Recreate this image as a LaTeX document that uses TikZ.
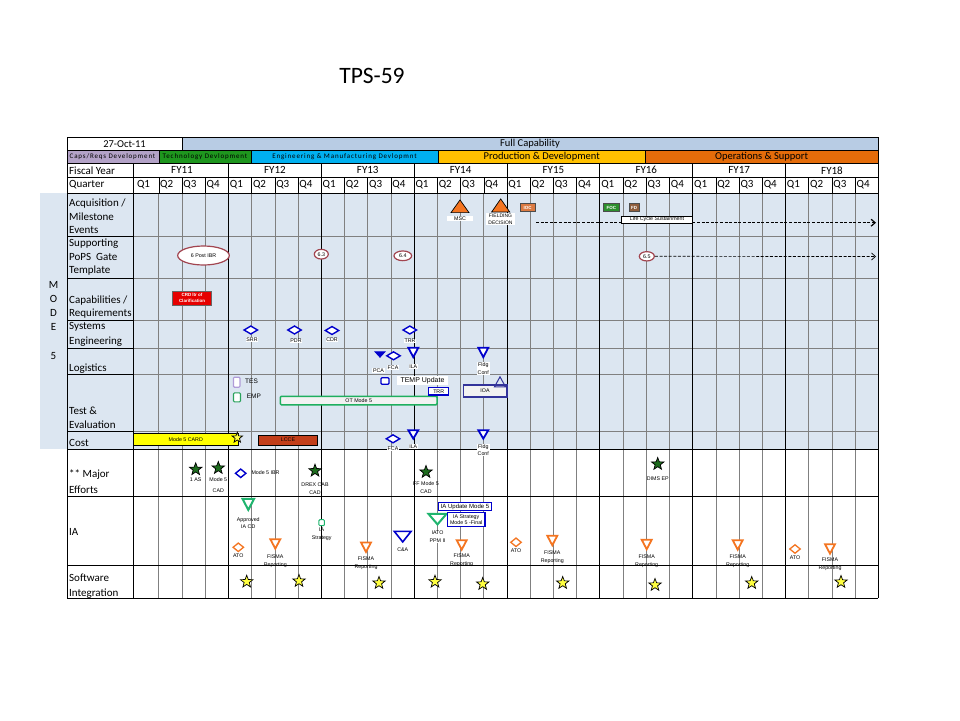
\documentclass[tikz,border=0pt]{standalone}
\usepackage{fontspec}
\setmainfont{Carlito}
\newfontfamily\arialf{Liberation Sans}
\newfontfamily\phasef[LetterSpace=12]{Carlito}
\usetikzlibrary{shapes.geometric,arrows.meta}
\definecolor{bgblue}{HTML}{DCE6F1}
\definecolor{fullcap}{HTML}{B8CCE4}
\definecolor{capsreq}{HTML}{B3A2C7}
\definecolor{techdev}{HTML}{1E961E}
\definecolor{emd}{HTML}{00B0F0}
\definecolor{prod}{HTML}{FFC000}
\definecolor{ops}{HTML}{E46C0A}
\definecolor{gridgray}{HTML}{808080}
\definecolor{msblue}{HTML}{0000CC}
\definecolor{ioablue}{HTML}{33339A}
\definecolor{msorange}{HTML}{F47521}
\definecolor{iagreen}{HTML}{1FB46E}
\definecolor{empgreen}{HTML}{2AA25C}
\definecolor{otgreen}{HTML}{1FAF5F}
\definecolor{tespurple}{HTML}{B09CD8}
\definecolor{dkgreen}{HTML}{1D6B1D}
\definecolor{starylw}{HTML}{FFFF40}
\definecolor{iocbox}{HTML}{DB7A42}
\definecolor{focbox}{HTML}{2D8F2D}
\definecolor{fdbox}{HTML}{8E5C3B}
\definecolor{crdred}{HTML}{E60000}
\definecolor{lcce}{HTML}{C23E1A}
\definecolor{ellred}{HTML}{A24550}
\definecolor{barfill}{HTML}{F2F2F2}
\definecolor{cardyl}{HTML}{FFFF00}
\tikzset{
  gridq/.style={gridgray, line width=0.7pt},
  gridfy/.style={black, line width=0.9pt},
  hline/.style={black, line width=0.8pt},
  hlineg/.style={gridgray, line width=0.8pt},
  hdr/.style={font=\fontsize{11}{12}\selectfont, inner sep=0pt},
  rowlbl/.style={font=\fontsize{11}{13.5}\selectfont, anchor=west, align=left, inner sep=0pt},
  tinytxt/.style={font=\arialf\fontsize{5.3}{7.8}\selectfont, inner sep=0.6pt, align=center},
  tlbl/.style={tinytxt, fill=white},
  phasebig/.style={font=\fontsize{10.5}{11}\selectfont, inner sep=0pt},
  phasesm/.style={font=\phasef\fontsize{7}{8}\selectfont, inner sep=0pt},
  bdiam/.style={diamond, draw=msblue, line width=1.4pt, fill=white, minimum width=14pt, minimum height=8.5pt, inner sep=0pt},
  odiam/.style={diamond, draw=msorange, line width=1.3pt, fill=white, minimum width=11pt, minimum height=9pt, inner sep=0pt},
  dtri/.style={isosceles triangle, isosceles triangle stretches, rotate=-90, anchor=apex, inner sep=0pt},
  utri/.style={isosceles triangle, isosceles triangle stretches, rotate=90, anchor=apex, inner sep=0pt},
  fistri/.style={dtri, draw=msorange, line width=1.8pt, fill=white, minimum width=10pt, minimum height=9.5pt},
  btri/.style={dtri, draw=msblue, line width=1.8pt, fill=white, minimum width=10pt, minimum height=9.5pt},
  gstar/.style={star, star points=5, star point ratio=2.4, draw=black, line width=0.7pt, fill=dkgreen, minimum size=13pt, inner sep=0pt},
  ystar/.style={gstar, fill=starylw},
  popsell/.style={ellipse, draw=ellred, line width=1.2pt, fill=white, inner sep=0pt, tinytxt},
  docicon/.style={rectangle, rounded corners=1pt, line width=1.1pt, fill=white, minimum width=6.5pt, minimum height=9pt, inner sep=0pt},
  msbox/.style={rectangle, draw=black!70, line width=0.6pt, text=white, font=\arialf\bfseries\fontsize{4.5}{5}\selectfont, inner sep=0pt, minimum height=8.4pt},
}
\def\xo{135.6}
\def\qw{23.213}
\begin{document}
\begin{tikzpicture}[x=1pt,y=-1pt]
\useasboundingbox (0,0) rectangle (960,720);
\fill[white] (0,0) rectangle (960,720);
\node[font=\fontsize{23.5}{26}\selectfont, inner sep=0pt] (title) at (372,76) {TPS-59};

% ---------- fills ----------
\fill[bgblue] (40,193) rectangle (878.3,449.3);
\fill[fullcap] (182,137.3) rectangle (878.3,150);
\fill[capsreq] (67,150) rectangle (159.3,163.3);
\fill[techdev] (159.3,150) rectangle (251.7,163.3);
\fill[emd] (251.7,150) rectangle (438.3,163.3);
\fill[prod] (438.3,150) rectangle (645,163.3);
\fill[ops] (645,150) rectangle (878.3,163.3);

% ---------- grid ----------
\foreach \q in {1,...,31}{
  \pgfmathtruncatemacro\m{mod(\q,4)}
  \ifnum\m=0\relax\else
    \draw[gridq] ({\xo+\q*\qw},193) -- ({\xo+\q*\qw},598.3);
    \draw[black, line width=0.6pt] ({\xo+\q*\qw},177) -- ({\xo+\q*\qw},193);
  \fi
}
\foreach \y in {236.7,278.3,320,348.3,374.3,431.7}{
  \draw[hlineg] (133.3,\y) -- (878.3,\y);
  \draw[hline] (67,\y) -- (133.3,\y);
}
\foreach \y in {137.3,150,163.3,177,193,449.3,496.7,565,598.3}{
  \draw[hline] (67,\y) -- (878.3,\y);
}
\draw[gridfy] (133.3,163.3) -- (133.3,598.3);
\foreach \k in {1,...,7}{
  \draw[gridfy] ({\xo+\k*4*\qw},163.3) -- ({\xo+\k*4*\qw},598.3);
}
\draw[hline] (67,137.3) -- (67,598.3);
\draw[hline] (878.3,137.3) -- (878.3,598.3);
\draw[hline] (182,137.3) -- (182,150);
\foreach \x in {159.3,251.7,438.3,645}{
  \draw[black, line width=0.6pt] (\x,150) -- (\x,163.3);
}

% ---------- header text ----------
\node[font=\fontsize{10.5}{11}\selectfont, inner sep=0pt] (date) at (124.5,143.8) {27-Oct-11};
\node[phasebig] (fullcapL) at (530,143.8) {Full Capability};
\node[phasesm] (ph1) at (112.5,157) {Caps/Reqs Development};
\node[phasesm] (ph2) at (205,157) {Technology Devlopment};
\node[phasesm] (ph3) at (344.5,157) {Engineering \& Manufacturing Devlopmnt};
\node[phasebig] (ph4) at (541.7,157) {Production \& Development};
\node[phasebig] (ph5) at (761.6,157) {Operations \& Support};
\node[hdr, anchor=west] (fyL) at (69,170.3) {Fiscal Year};
\node[hdr, anchor=west] (qL) at (69,185) {Quarter};
\foreach \k/\t in {0/FY11,1/FY12,2/FY13,3/FY14,4/FY15,5/FY16,6/FY17,7/FY18}{
  \node[hdr] (fy\k) at ({\xo+\k*4*\qw+2*\qw},170.3) {\t};
}
\foreach \q in {0,...,31}{
  \pgfmathtruncatemacro\n{mod(\q,4)+1}
  \node[hdr, anchor=west] (qlab\q) at ({\xo+\q*\qw+1.2},185) {Q\n};
}

% ---------- row labels ----------
\node[rowlbl] (rAcq) at (69,216.3) {Acquisition /\\Milestone\\Events};
\node[rowlbl] (rPops) at (69,257.2) {Supporting\\PoPS\ \ Gate\\Template};
\node[rowlbl] (rCap) at (69,307) {Capabilities /\\Requirements};
\node[rowlbl, font=\fontsize{11}{14.4}\selectfont] (rSE) at (69,334.5) {Systems\\Engineering};
\node[rowlbl] (rLog) at (69,368.3) {Logistics};
\node[rowlbl] (rTE) at (69,418) {Test \&\\Evaluation};
\node[rowlbl] (rCost) at (69,442.5) {Cost};
\node[rowlbl, font=\fontsize{11}{16}\selectfont] (rME) at (69,482) {** Major\\Efforts};
\node[rowlbl] (rIA) at (69,531.7) {IA};
\node[rowlbl, font=\fontsize{11}{15}\selectfont] (rSW) at (69,585.8) {Software\\Integration};
\foreach \i/\c/\y in {1/M/285,2/O/299,3/D/312.7,4/E/326.7,5/5/355.7}{
  \node[font=\fontsize{11}{12}\selectfont, inner sep=0pt] (mode\i) at (53.5,\y) {\c};
}

% ---------- Acquisition / Milestone ----------
\node[utri, draw=black, line width=0.7pt, fill=msorange, minimum width=18pt, minimum height=12.7pt] (mscT) at (460,199) {};
\node[tlbl, minimum width=26pt] (mscL) at (460,218.3) {MSC};
\node[utri, draw=black, line width=0.7pt, fill=msorange, minimum width=18pt, minimum height=13pt] (fldT) at (500.7,198) {};
\node[tlbl, minimum width=29pt, font=\arialf\fontsize{5}{6.8}\selectfont] (fldL) at (500.5,219) {FIELDING\\DECISION};
\node[msbox, fill=iocbox, minimum width=15.3pt] (ioc) at (527.7,207.5) {IOC};
\node[msbox, fill=focbox, minimum width=16pt] (foc) at (611.3,207.5) {FOC};
\node[msbox, fill=fdbox, minimum width=10.3pt] (fd) at (634.2,207.5) {FD};
\coordinate (lcsA) at (536,222.7);
\coordinate (lcsB) at (876,222.7);
\draw[dash pattern=on 3pt off 1.6pt, line width=1.2pt, -{Straight Barb[length=4pt,width=7pt]}] (lcsA) -- (lcsB);
\node[tinytxt, draw=black, line width=0.6pt, fill=white, minimum width=70.6pt, minimum height=7.3pt, inner sep=0pt] (lcs) at (657,219.6) {Life Cycle Sustainment};

% ---------- PoPS ----------
\node[popsell, minimum width=51.6pt, minimum height=19pt] (e6p) at (203.5,255.5) {6 Post IBR};
\node[popsell, minimum width=14pt, minimum height=9.7pt] (e63) at (321.3,254.2) {6.3};
\node[popsell, minimum width=17.7pt, minimum height=9.7pt] (e64) at (402.8,255.8) {6.4};
\node[popsell, minimum width=15pt, minimum height=9.3pt] (e65) at (646.8,256.3) {6.5};
\coordinate (popsB) at (876,256.5);
\draw[dash pattern=on 3pt off 1.6pt, line width=0.7pt, -{Straight Barb[length=4pt,width=7pt]}] (e65) -- (popsB);

% ---------- Capabilities ----------
\node[rectangle, draw=black!60, fill=crdred, text=white, font=\arialf\bfseries\fontsize{4.5}{5.4}\selectfont, align=center, minimum width=39pt, minimum height=14pt, inner sep=0pt] (crd) at (192,298) {CRD ltr of\\Clarification};

% ---------- Systems Engineering ----------
\node[bdiam] (srr) at (250.8,330) {};
\node[tlbl] (srrL) at (252,339.5) {SRR};
\node[bdiam] (pdr) at (294.5,330) {};
\node[tlbl] (pdrL) at (296,341) {PDR};
\node[bdiam] (cdr) at (332,330.5) {};
\node[tlbl] (cdrL) at (332,340) {CDR};
\node[bdiam] (trr) at (409.8,330) {};
\node[tlbl] (trrL) at (410,341) {TRR};

% ---------- Logistics ----------
\node[dtri, fill=msblue, draw=msblue, line width=0.8pt, minimum width=10pt, minimum height=5.5pt] (pca) at (380,358.3) {};
\node[tlbl] (pcaL) at (378.5,370.7) {PCA};
\node[bdiam] (fcaLog) at (393.5,355.8) {};
\node[tlbl] (fcaLogL) at (393,367.7) {FCA};
\node[btri] (ilaLog) at (413.3,359.5) {};
\node[tlbl] (ilaLogL) at (413.3,366.5) {ILA};
\node[btri] (fcLog) at (483.3,359.5) {};
\node[tlbl] (fcLogL) at (483.3,368.7) {Fldg\\Conf};

% ---------- Test & Evaluation ----------
\node[docicon, draw=tespurple, minimum height=10pt] (tes) at (236.7,382.2) {};
\node[font=\arialf\fontsize{6.5}{7}\selectfont, anchor=west, inner sep=0pt] (tesL) at (245,381.7) {TES};
\node[docicon, draw=empgreen, minimum width=7pt] (emp) at (237,397.3) {};
\node[font=\arialf\fontsize{6.5}{7}\selectfont, anchor=west, inner sep=0pt] (empL) at (246.7,396.7) {EMP};
\node[rectangle, rounded corners=1pt, draw=otgreen, line width=1.5pt, fill=barfill, minimum width=156.6pt, minimum height=8.5pt, tinytxt, inner sep=0pt] (ot) at (358.7,400.5) {OT Mode 5};
\node[docicon, draw=msblue, minimum width=8pt, minimum height=6.5pt] (tempI) at (385,381) {};
\node[fill=white, font=\arialf\fontsize{7}{8}\selectfont, minimum width=51.6pt, minimum height=9pt, inner sep=0pt] (tempL) at (422.5,380.5) {TEMP Update};
\node[draw=msblue, line width=1.3pt, fill=white, tinytxt, minimum width=20pt, minimum height=7.7pt, inner sep=0pt] (trrBox) at (438.7,391.2) {TRR};
\node[draw=ioablue, line width=1.6pt, fill=barfill, tinytxt, minimum width=43.4pt, minimum height=11.7pt, inner sep=0pt] (ioa) at (485,391) {IOA};
\node[utri, draw=ioablue, line width=1pt, minimum width=11pt, minimum height=10pt] (ioaT) at (500,375.5) {};

% ---------- Cost ----------
\node[draw=black, line width=1pt, fill=cardyl, tinytxt, minimum width=105pt, minimum height=12.5pt, inner sep=0pt] (card) at (185.8,439.7) {Mode 5 CARD};
\node[ystar, minimum size=11pt] (cardStar) at (237.3,437.7) {};
\node[draw=black, line width=1pt, fill=lcce, tinytxt, minimum width=59.4pt, minimum height=10pt, inner sep=0pt] (lcceB) at (288,440) {LCCE};
\node[bdiam] (fcaC) at (393,438.8) {};
\node[tlbl] (fcaCL) at (393,449) {FCA};
\node[btri, minimum height=8.5pt] (ilaC) at (413.3,441) {};
\node[tlbl] (ilaCL) at (413.3,446.5) {ILA};
\node[btri, minimum height=8.5pt] (fcC) at (483.3,441) {};
\node[tlbl] (fcCL) at (483.3,450) {Fldg\\Conf};

% ---------- Major Efforts ----------
\node[gstar] (s1as) at (195.7,469.3) {};
\node[tinytxt] (s1asL) at (195.7,479.5) {1 AS};
\node[gstar] (sm5) at (218.3,468) {};
\node[tinytxt, font=\arialf\fontsize{5.3}{11.4}\selectfont] (sm5L) at (218.3,485) {Mode 5\\CAD};
\node[bdiam, minimum width=11pt, minimum height=9pt] (m5ibr) at (240.7,473.3) {};
\node[tinytxt, anchor=west] (m5ibrL) at (250.7,473) {Mode 5 IBR};
\node[gstar] (sdrex) at (315,470.7) {};
\node[tinytxt] (sdrexL) at (315,488.8) {DREX CAB\\CAD};
\node[gstar] (sff) at (426,472) {};
\node[tinytxt] (sffL) at (426,487.5) {FF Mode 5\\CAD};
\node[gstar] (sdims) at (657.7,464) {};
\node[tinytxt] (sdimsL) at (657.7,479) {DIMS EP};

% ---------- IA ----------
\node[dtri, draw=iagreen, line width=2pt, fill=white, minimum width=11.5pt, minimum height=11pt] (aiacd) at (248.3,512.5) {};
\node[tinytxt] (aiacdL) at (248.3,523) {Approved\\IA CD};
\node[docicon, draw=iagreen, minimum width=5.5pt, minimum height=6pt, line width=1pt] (iastr) at (321.7,522.7) {};
\node[tinytxt] (iastrL) at (321.7,534.2) {IA\\Strategy};
\node[odiam] (ato1) at (238.3,547.3) {};
\node[tinytxt] (ato1L) at (238.3,556) {ATO};
\node[fistri] (fis1) at (275.3,551) {};
\node[tinytxt] (fis1L) at (275.3,561.2) {FISMA\\Reporting};
\node[fistri] (fis2) at (366,554.3) {};
\node[tinytxt] (fis2L) at (366,563) {FISMA\\Reporting};
\node[dtri, draw=msblue, line width=1.6pt, fill=white, minimum width=16.7pt, minimum height=10.5pt] (ca) at (402.7,544) {};
\node[tlbl] (caL) at (402.7,549.3) {C\&A};
\node[dtri, draw=iagreen, line width=2pt, fill=white, minimum width=18pt, minimum height=10.5pt] (iato) at (437.5,527) {};
\node[tlbl] (iatoL) at (437.5,537) {IATO\\PPM II};
\node[draw=msblue, line width=1.3pt, fill=white, font=\arialf\fontsize{6}{7}\selectfont, minimum width=53.4pt, minimum height=8pt, inner sep=0pt] (iaupd) at (465,506.7) {IA Update Mode 5};
\node[draw=msblue, line width=1.3pt, fill=white, font=\arialf\fontsize{5.3}{6.6}\selectfont, align=center, minimum width=37.7pt, minimum height=14.4pt, inner sep=0pt] (iastrF) at (466.2,519.5) {IA Strategy\\Mode 5 -Final};
\node[fistri] (fis3) at (461.7,552) {};
\node[tinytxt] (fis3L) at (461.7,560.4) {FISMA\\Reporting};
\node[odiam] (ato2) at (516,542.3) {};
\node[tinytxt] (ato2L) at (516,550.7) {ATO};
\node[fistri] (fis4) at (552.3,547.6) {};
\node[tinytxt] (fis4L) at (552.3,556.9) {FISMA\\Reporting};
\node[fistri] (fis5) at (646.7,551.6) {};
\node[tinytxt] (fis5L) at (646.7,560.9) {FISMA\\Reporting};
\node[fistri] (fis6) at (737.7,552) {};
\node[tinytxt] (fis6L) at (737.7,560.9) {FISMA\\Reporting};
\node[odiam] (ato3) at (795,549) {};
\node[tinytxt] (ato3L) at (795,557.7) {ATO};
\node[fistri] (fis7) at (830,556) {};
\node[tinytxt] (fis7L) at (830,564.2) {FISMA\\Reporting};

% ---------- Software Integration ----------
\foreach \i/\x/\y in {1/246.7/581.7,2/299/581,3/379/583,4/435/581.7,5/482.7/584,6/562.7/583,7/655/585,8/751.7/583,9/841/582}{
  \node[ystar] (sw\i) at (\x,\y) {};
}
\end{tikzpicture}
\end{document}
